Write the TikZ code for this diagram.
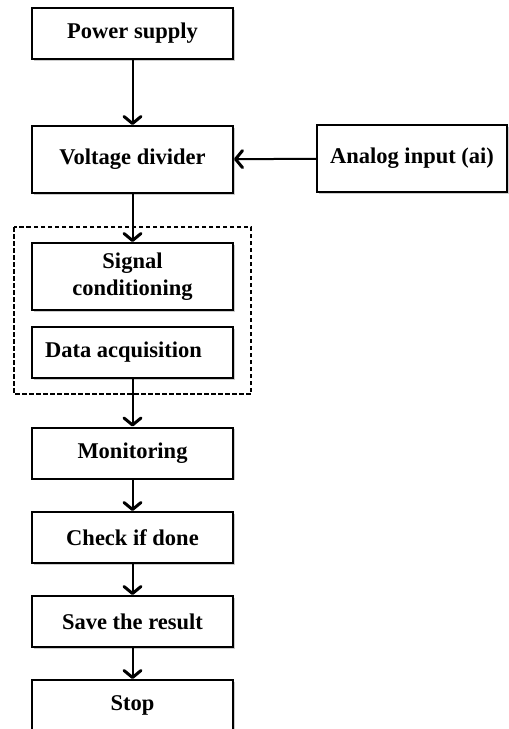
\documentclass[tikz,border=0pt]{standalone}
\usepackage{fontspec}
\setmainfont{Liberation Serif}
\usetikzlibrary{arrows.meta,shadows}

\tikzset{
  blockbox/.style={draw=black, line width=2pt, fill=white, inner sep=0pt,
    minimum width=201pt, align=center,
    font=\fontsize{22.5}{27}\selectfont\bfseries,
    drop shadow={shadow xshift=1.5pt, shadow yshift=-1.5pt, opacity=0.4}},
  flow/.style={line width=2pt, -{Straight Barb[length=7pt,width=17pt,line width=3pt,round]}},
  groupframe/.style={draw=black, line width=1.6pt, dash pattern=on 4.5pt off 2.5pt}
}

\begin{document}
\begin{tikzpicture}[x=1pt, y=-1pt]
  \useasboundingbox (0,0) rectangle (509,729);

  % group frame around the acquisition stages
  \draw[groupframe] (14,227) rectangle (251,394);

  % processing blocks
  \node[blockbox, minimum height=51pt] (power)   at (132.5,33.5)  {Power supply};
  \node[blockbox, minimum height=67pt] (divider) at (132.5,159.5) {Voltage divider};
  \node[blockbox, minimum height=67pt, minimum width=190pt] (analog) at (412,158.5) {Analog input (ai)};
  \node[blockbox, minimum height=67pt] (signal)  at (132.5,276.5) {Signal\\conditioning};
  \node[blockbox, minimum height=51pt] (daq)     at (132.5,352.5) {\hspace*{-18pt}Data acquisition};
  \node[blockbox, minimum height=51pt] (monitor) at (132.5,453)   {Monitoring};
  \node[blockbox, minimum height=51pt] (check)   at (132.5,537.5) {Check if done};
  \node[blockbox, minimum height=51pt] (save)    at (132.5,621.5) {Save the result};
  \node[blockbox, minimum height=51pt] (stop)    at (132.5,705.5) {Stop};

  % connectors
  \draw[flow] (power) -- (divider);
  \draw[flow] (analog) -- (divider);
  \draw[flow] (divider) -- (signal);
  \draw[flow] (daq) -- (monitor);
  \draw[flow] (monitor) -- (check);
  \draw[flow] (check) -- (save);
  \draw[flow] (save) -- (stop);
\end{tikzpicture}
\end{document}
